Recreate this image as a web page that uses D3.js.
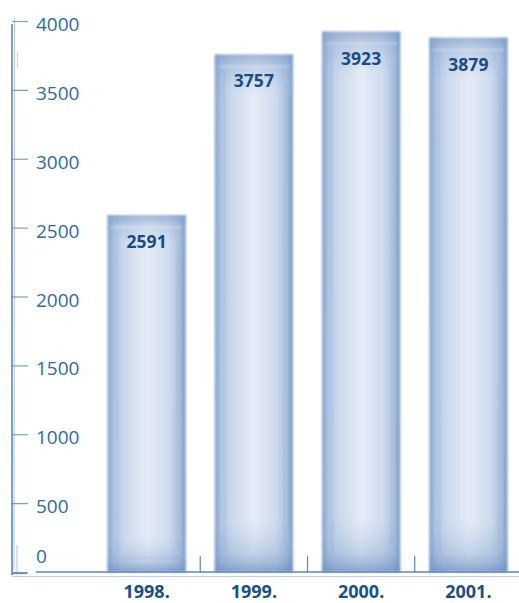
<!DOCTYPE html>
<html>
<head>
<meta charset="utf-8">
<script src="https://cdn.jsdelivr.net/npm/d3@7"></script>
<style>
  html, body { margin: 0; padding: 0; background: #fff; }
  svg { display: block; }
</style>
</head>
<body>
<svg id="chart" width="519" height="603"></svg>
<script>
// Yearly totals
const years = ["1998.", "1999.", "2000.", "2001."];
const totals = [2591, 3757, 3923, 3879];
const yTicks = [0, 500, 1000, 1500, 2000, 2500, 3000, 3500, 4000];

const svg = d3.select("#chart");
const W = 519, H = 603;

const y = d3.scaleLinear().domain([0, 4000]).range([572, 21]);
const x = d3.scaleBand().domain(years).range([93, 522]).paddingInner(0.27).paddingOuter(0.135);

const defs = svg.append("defs");

// Horizontal shading of each column: darker rims, pale middle
const hg = defs.append("linearGradient").attr("id", "colH").attr("x1", 0).attr("x2", 1).attr("y1", 0).attr("y2", 0);
[[0, "#84a3cd"], [0.07, "#adc3e1"], [0.2, "#c9d7ec"], [0.5, "#e6ecf6"], [0.78, "#cfdbee"], [0.92, "#abc1e0"], [1, "#7b9ac6"]]
  .forEach(([o, c]) => hg.append("stop").attr("offset", o).attr("stop-color", c));

// Vertical shading: darker cap at top and foot at bottom
const vg = defs.append("linearGradient").attr("id", "colV").attr("x1", 0).attr("x2", 0).attr("y1", 0).attr("y2", 1);
[[0, "#7394c3", 0.6], [0.03, "#86a3cd", 0.3], [0.08, "#9fb7da", 0.0], [0.9, "#9fb7da", 0.0], [0.97, "#7898c7", 0.35], [1, "#5f85bb", 0.7]]
  .forEach(([o, c, a]) => vg.append("stop").attr("offset", o).attr("stop-color", c).attr("stop-opacity", a));

const soft = defs.append("filter").attr("id", "soft").attr("x", "-10%").attr("y", "-10%").attr("width", "120%").attr("height", "120%");
soft.append("feGaussianBlur").attr("stdDeviation", 0.9);

const axisColor = "#5b86bd";

// Columns
const cols = svg.append("g").attr("class", "columns").attr("filter", "url(#soft)");
years.forEach((yr, i) => {
  const g = cols.append("g");
  const x0 = x(yr), bw = x.bandwidth(), top = y(totals[i]), bot = y(0);
  g.append("rect").attr("x", x0).attr("y", top).attr("width", bw).attr("height", bot - top).attr("fill", "url(#colH)");
  g.append("rect").attr("x", x0).attr("y", top).attr("width", bw).attr("height", bot - top).attr("fill", "url(#colV)");
  // hand-drawn streaks along the column
  [0.06, 0.12, 0.9, 0.95].forEach((f, k) => {
    g.append("line")
      .attr("x1", x0 + bw * f).attr("x2", x0 + bw * f + (k % 2 ? 1 : -1))
      .attr("y1", top + 6 + k * 12).attr("y2", bot - 8 - k * 10)
      .attr("stroke", "#6f92c2").attr("stroke-opacity", 0.3).attr("stroke-width", 1);
  });
  g.append("line").attr("x1", x0 + 3).attr("x2", x0 + bw - 3)
    .attr("y1", top + 12).attr("y2", top + 12)
    .attr("stroke", "#ffffff").attr("stroke-opacity", 0.3).attr("stroke-width", 2);
  g.append("line").attr("x1", x0 + 4).attr("x2", x0 + bw - 6)
    .attr("y1", bot - 14).attr("y2", bot - 15)
    .attr("stroke", "#7a99c6").attr("stroke-opacity", 0.35).attr("stroke-width", 1);
});

// Value labels on the columns
svg.append("g").selectAll("text").data(totals).join("text")
  .attr("x", (d, i) => x(years[i]) + x.bandwidth() / 2)
  .attr("y", d => y(d) + 33)
  .attr("text-anchor", "middle")
  .attr("font-family", "'Open Sans', sans-serif")
  .attr("font-weight", 700)
  .attr("font-size", 17.5)
  .attr("fill", "#1a4c85")
  .text(d => d);

// Y axis (sketchy double stroke)
const ax = svg.append("g").attr("class", "y-axis");
ax.append("line").attr("x1", 12).attr("x2", 12).attr("y1", 24).attr("y2", 575).attr("stroke", axisColor).attr("stroke-width", 1.6);
ax.append("line").attr("x1", 14.5).attr("x2", 14).attr("y1", 18).attr("y2", 570).attr("stroke", axisColor).attr("stroke-opacity", 0.45).attr("stroke-width", 1);
ax.append("line").attr("x1", 17.5).attr("x2", 17.5).attr("y1", 52).attr("y2", 68).attr("stroke", axisColor).attr("stroke-opacity", 0.35).attr("stroke-width", 1);
ax.append("line").attr("x1", 17).attr("x2", 17).attr("y1", 545).attr("y2", 572).attr("stroke", axisColor).attr("stroke-opacity", 0.5).attr("stroke-width", 1);

const yAxis = d3.axisLeft(y).tickValues(yTicks).tickSize(0).tickPadding(0).tickFormat(d3.format("d"));
const yg = svg.append("g").attr("transform", "translate(36,0)").call(yAxis);
yg.select(".domain").remove();
yg.selectAll(".tick text")
  .attr("text-anchor", "start")
  .attr("x", 0)
  .attr("dy", d => d === 0 ? "-0.52em" : "0.5em")
  .attr("font-family", "'Open Sans', sans-serif")
  .attr("font-size", 19)
  .attr("fill", "#2f69a1");
yg.selectAll(".tick").append("line")
  .attr("x1", -24).attr("x2", -8).attr("y1", 0).attr("y2", 0)
  .attr("stroke", axisColor).attr("stroke-opacity", 0.8).attr("stroke-width", 1.2);

// X baseline
const bx = svg.append("g").attr("class", "x-axis");
bx.append("line").attr("x1", 36).attr("x2", W).attr("y1", 572).attr("y2", 572).attr("stroke", axisColor).attr("stroke-width", 1.4);
bx.append("line").attr("x1", 12).attr("x2", W).attr("y1", 576.5).attr("y2", 576.5).attr("stroke", axisColor).attr("stroke-opacity", 0.4).attr("stroke-width", 1);
bx.append("line").attr("x1", 12).attr("x2", 27).attr("y1", 573.5).attr("y2", 573.5).attr("stroke", axisColor).attr("stroke-width", 1.2);

// Separators between columns
const seps = years.slice(1).map(yr => x(yr) - x.step() * x.paddingInner() / 2);
bx.selectAll("line.sep").data(seps).join("line").attr("class", "sep")
  .attr("x1", d => d).attr("x2", d => d).attr("y1", 556).attr("y2", 572)
  .attr("stroke", axisColor).attr("stroke-width", 1.2);

// Year labels
const xAxis = d3.axisBottom(x).tickSize(0).tickPadding(0);
const xg = svg.append("g").attr("transform", "translate(0,598)").call(xAxis);
xg.select(".domain").remove();
xg.selectAll(".tick text")
  .attr("y", 0).attr("dy", 0)
  .attr("font-family", "'Open Sans', sans-serif")
  .attr("font-weight", 700)
  .attr("font-size", 18)
  .attr("fill", "#1b4f86");
</script>
</body>
</html>
